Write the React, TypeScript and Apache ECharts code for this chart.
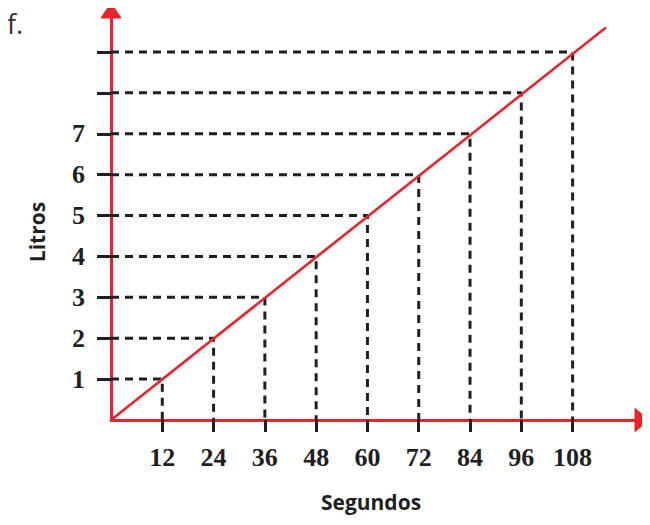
import React, { useEffect, useRef } from "react";
import * as echarts from "echarts";

const seconds = [12, 24, 36, 48, 60, 72, 84, 96, 108];
const liters = [1, 2, 3, 4, 5, 6, 7, 8, 9];
const yLabelValues = [1, 2, 3, 4, 5, 6, 7];
const lineStart = [0, 0];
const lineEnd = [115.8, 9.6];
const xMax = 123.3;
const yMax = 9.88;

export default function App() {
  const ref = useRef<HTMLDivElement>(null);
  useEffect(() => {
    const chart = echarts.init(ref.current!, null, { renderer: "svg" });
    const red = "#e8232b";
    const dark = "#1f1f1f";
    const guideSeries = seconds.map((s, i) => ({
      type: "line",
      data: [
        [0, liters[i]],
        [s, liters[i]],
        [s, 0],
      ],
      symbol: "none",
      silent: true,
      z: 1,
      lineStyle: { color: dark, width: 3, type: [8, 6] },
    }));
    const textGraphics = [
      {
        type: "text",
        left: 7,
        top: 10,
        style: { text: "f.", font: "27px 'Open Sans'", fill: "#333" },
      },
      {
        type: "text",
        x: 371,
        y: 502,
        style: {
          text: "Segundos",
          font: "bold 21px 'Open Sans'",
          fill: dark,
          align: "center",
          verticalAlign: "middle",
        },
      },
      {
        type: "text",
        x: 37,
        y: 232,
        rotation: Math.PI / 2,
        style: {
          text: "Litros",
          font: "bold 21px 'Open Sans'",
          fill: dark,
          align: "center",
          verticalAlign: "middle",
        },
      },
    ];
    chart.setOption({
      animation: false,
      grid: { left: 111, top: 16, width: 527, height: 404, containLabel: false },
      xAxis: {
        type: "value",
        min: 0,
        max: xMax,
        splitLine: { show: false },
        axisLine: { show: true, lineStyle: { color: red, width: 3 } },
        axisTick: {
          show: true,
          customValues: seconds,
          length: 12,
          lineStyle: { color: dark, width: 3 },
        },
        axisLabel: {
          customValues: seconds,
          margin: 24,
          color: dark,
          fontFamily: "Liberation Serif",
          fontWeight: "bold",
          fontSize: 26,
        },
      },
      yAxis: {
        type: "value",
        min: 0,
        max: yMax,
        splitLine: { show: false },
        axisLine: { show: true, lineStyle: { color: red, width: 3 } },
        axisTick: {
          show: true,
          customValues: liters,
          length: 14,
          lineStyle: { color: dark, width: 3 },
        },
        axisLabel: {
          customValues: yLabelValues,
          margin: 26,
          color: dark,
          fontFamily: "Liberation Serif",
          fontWeight: "bold",
          fontSize: 26,
        },
      },
      graphic: textGraphics,
      series: [
        ...guideSeries,
        {
          type: "line",
          data: [lineStart, lineEnd],
          symbol: "none",
          z: 3,
          lineStyle: { color: red, width: 2.6 },
        },
      ],
    });
    const xEnd = chart.convertToPixel({ gridIndex: 0 }, [xMax, 0]) as number[];
    const yEnd = chart.convertToPixel({ gridIndex: 0 }, [0, yMax]) as number[];
    chart.setOption({
      graphic: [
        ...textGraphics,
        {
          type: "polygon",
          z: 10,
          shape: {
            points: [
              [xEnd[0] - 3, xEnd[1] - 11.5],
              [xEnd[0] + 11, xEnd[1]],
              [xEnd[0] - 3, xEnd[1] + 11.5],
            ],
          },
          style: { fill: red, stroke: red, lineWidth: 1 },
        },
        {
          type: "polygon",
          z: 10,
          shape: {
            points: [
              [yEnd[0] - 10, yEnd[1] + 2],
              [yEnd[0], yEnd[1] - 13],
              [yEnd[0] + 10, yEnd[1] + 2],
            ],
          },
          style: { fill: red, stroke: red, lineWidth: 1 },
        },
      ],
    });
    return () => chart.dispose();
  }, []);
  return <div ref={ref} style={{ width: 650, height: 525, margin: -8 }} />;
}
